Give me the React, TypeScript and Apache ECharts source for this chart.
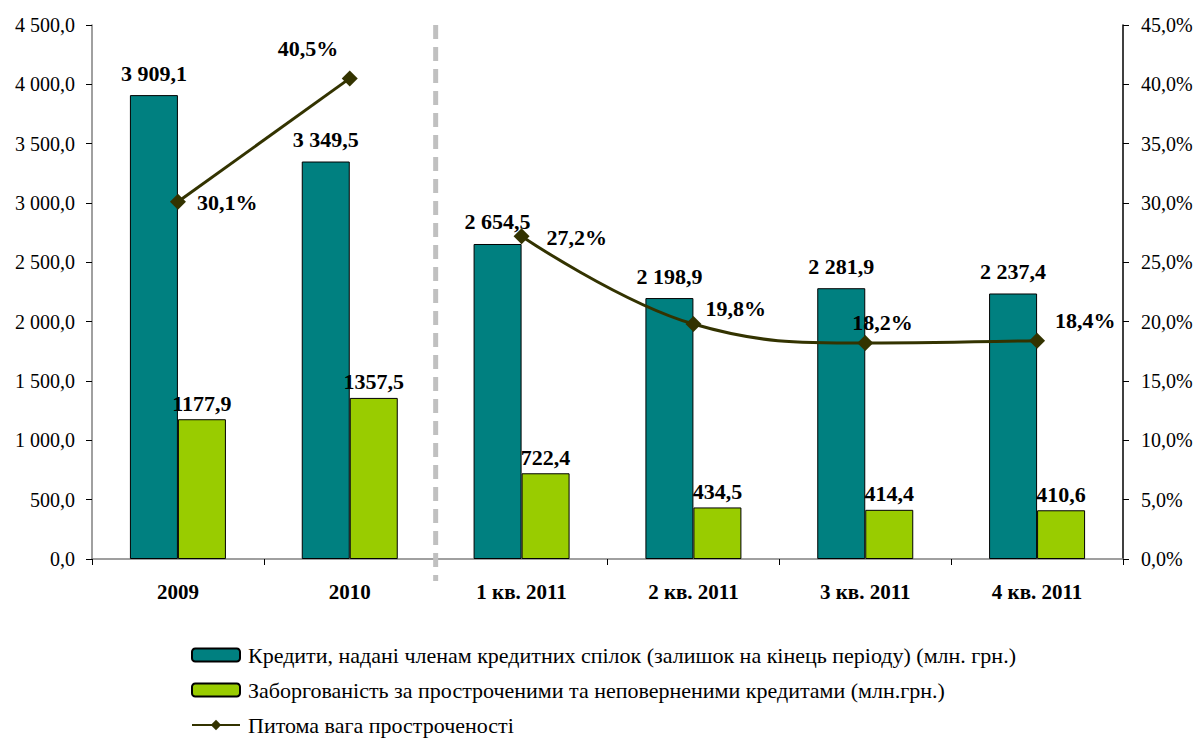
import React, { useEffect, useRef } from "react";
import * as echarts from "echarts";

const categories = ["2009", "2010", "1 кв. 2011", "2 кв. 2011", "3 кв. 2011", "4 кв. 2011"];
const credits = [3909.1, 3349.5, 2654.5, 2198.9, 2281.9, 2237.4];
const overdue = [1177.9, 1357.5, 722.4, 434.5, 414.4, 410.6];
const share = [30.1, 40.5, 27.2, 19.8, 18.2, 18.4];
const shareLabelOffsets: [number, number][] = [
  [6, 1], [-85, -30], [12, 1], [-1, -16], [-26, -21], [5, -20],
];

const nameCredits = "Кредити, надані членам кредитних спілок (залишок на кінець періоду) (млн. грн.)";
const nameOverdue = "Заборгованість за простроченими та неповерненими кредитами (млн.грн.)";
const nameShare = "Питома вага простроченості";

const FONT = "Liberation Serif, Times New Roman, serif";

function fmtSpace(v: number): string {
  const s = v.toFixed(1);
  const [i, d] = s.split(".");
  const ii = i.replace(/\B(?=(\d{3})+(?!\d))/g, " ");
  return ii + "," + d;
}
function fmtPlain(v: number): string {
  return v.toFixed(1).replace(".", ",");
}

export default function App() {
  const ref = useRef<HTMLDivElement>(null);
  useEffect(() => {
    if (!ref.current) return;
    const chart = echarts.init(ref.current, null, { renderer: "svg" });
    const firstSeg = share.map((v, i) => (i < 2 ? v : "-"));
    const secondSeg = share.map((v, i) => (i >= 2 ? v : "-"));
    const mkLine = (data: any[]) => ({
      name: nameShare,
      type: "line",
      yAxisIndex: 1,
      smooth: 0.4,
      symbol: "diamond",
      symbolSize: 16,
      lineStyle: { color: "#333300", width: 3 },
      itemStyle: { color: "#333300" },
      data: data.map((v, i) =>
        v === "-"
          ? "-"
          : {
              value: v,
              label: {
                show: true,
                position: "right",
                offset: shareLabelOffsets[i],
                formatter: fmtPlain(v) + "%",
              },
            }
      ),
      label: { fontFamily: FONT, fontWeight: "bold", fontSize: 22, color: "#000" },
      z: 5,
    });
    chart.setOption({
      animation: false,
      textStyle: { fontFamily: FONT },
      grid: { left: 92, right: 77, top: 25, bottom: 179 },
      legend: {
        orient: "vertical",
        left: 186,
        top: 639,
        height: 200,
        itemWidth: 48,
        itemHeight: 13,
        itemGap: 13,
        data: [
          { name: nameCredits },
          { name: nameOverdue },
          { name: nameShare, itemStyle: { color: "#333300" } },
        ],
        textStyle: { fontFamily: FONT, fontSize: 22, color: "#000", lineHeight: 21, padding: [0, 0, 0, 3] },
      },
      xAxis: {
        type: "category",
        data: categories,
        axisLine: { lineStyle: { color: "#808080", width: 1.5 } },
        axisTick: { show: true, length: 6, lineStyle: { color: "#000" } },
        axisLabel: { fontFamily: FONT, fontWeight: "bold", fontSize: 21, color: "#000", margin: 22 },
      },
      yAxis: [
        {
          type: "value",
          min: 0,
          max: 4500,
          interval: 500,
          axisLine: { show: true, lineStyle: { color: "#808080", width: 1.5 } },
          axisTick: { show: true, length: 6, lineStyle: { color: "#000" } },
          splitLine: { show: false },
          axisLabel: { fontFamily: FONT, fontSize: 20, color: "#000", margin: 17, formatter: (v: number) => fmtSpace(v) },
        },
        {
          type: "value",
          min: 0,
          max: 45,
          interval: 5,
          axisLine: { show: true, lineStyle: { color: "#000", width: 1.5 } },
          axisTick: { show: true, length: 6, lineStyle: { color: "#000" } },
          splitLine: { show: false },
          axisLabel: { fontFamily: FONT, fontSize: 20, color: "#000", margin: 18, formatter: (v: number) => fmtPlain(v) + "%" },
        },
      ],
      series: [
        {
          name: nameCredits,
          type: "bar",
          data: credits,
          barWidth: 48,
          barGap: "0%",
          itemStyle: { color: "#008080", borderColor: "#000", borderWidth: 1 },
          label: {
            show: true,
            position: "top",
            distance: 11,
            fontFamily: FONT,
            fontWeight: "bold",
            fontSize: 22,
            color: "#000",
            formatter: (p: any) => fmtSpace(p.value),
          },
        },
        {
          name: nameOverdue,
          type: "bar",
          data: overdue,
          barWidth: 48,
          barGap: "0%",
          itemStyle: { color: "#99CC00", borderColor: "#000", borderWidth: 1 },
          label: {
            show: true,
            position: "top",
            distance: 5,
            fontFamily: FONT,
            fontWeight: "bold",
            fontSize: 22,
            color: "#000",
            formatter: (p: any) => fmtPlain(p.value),
          },
        },
        mkLine(firstSeg),
        mkLine(secondSeg),
      ],
    });
    const x1 = chart.convertToPixel({ xAxisIndex: 0 }, categories[1]) as number;
    const x2 = chart.convertToPixel({ xAxisIndex: 0 }, categories[2]) as number;
    const yTop = chart.convertToPixel({ yAxisIndex: 0 }, 4500) as number;
    const yBot = chart.convertToPixel({ yAxisIndex: 0 }, 0) as number;
    const xm = (x1 + x2) / 2;
    chart.setOption({
      graphic: [
        {
          type: "line",
          shape: { x1: xm, y1: yTop, x2: xm, y2: yBot + 22 },
          style: { stroke: "#C0C0C0", lineWidth: 5, lineDash: [14, 8] },
          z: 10,
        },
      ],
    });
    return () => chart.dispose();
  }, []);
  return (
    <div
      ref={ref}
      style={{ position: "absolute", left: 0, top: 0, width: 1200, height: 738, background: "#fff" }}
    />
  );
}
